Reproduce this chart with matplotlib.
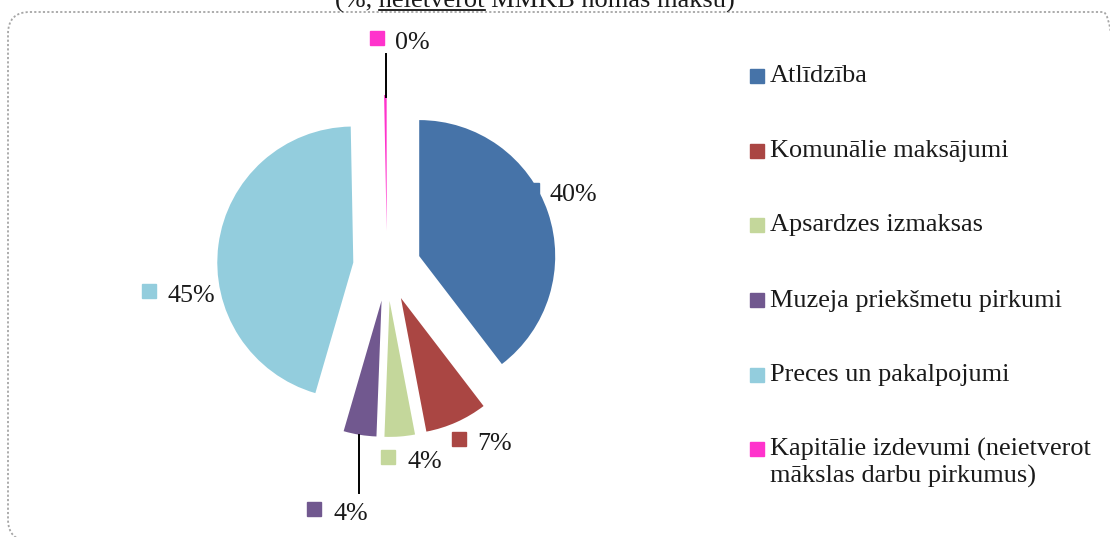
import matplotlib
matplotlib.use("Agg")
import matplotlib.pyplot as plt
from matplotlib.patches import FancyBboxPatch

plt.rcParams['font.family'] = ['Liberation Serif', 'DejaVu Serif']

# ---- data ----
categories = ["Atlīdzība", "Komunālie maksājumi", "Apsardzes izmaksas",
              "Muzeja priekšmetu pirkumi", "Preces un pakalpojumi",
              "Kapitālie izdevumi (neietverot\nmākslas darbu pirkumus)"]
values = [39.6, 7.4, 3.6, 3.9, 45.2, 0.3]
colors = ["#4673A8", "#AA4643", "#C4D79B", "#71588F", "#93CDDD", "#FF33CC"]
title_pre = "(%, "
title_ul = "neietverot"
title_post = " MMKB nomas maksu)"

W, H = 1110, 537
fig = plt.figure(figsize=(W / 100, H / 100), dpi=100)
ax = fig.add_axes([0, 0, 1, 1])

def py(y):
    return H - y

FS = 18.7
FS_LEG = 18.9
FS_TITLE = 19.0

# dotted rounded border (extends past right and bottom edges)
border = FancyBboxPatch((8, py(541)), 1117, 529,
                        boxstyle="round,pad=0,rounding_size=22",
                        fill=False, edgecolor="#A6A6A6", linewidth=1.3,
                        linestyle=(0, (1.2, 1.2)), zorder=0)
ax.add_patch(border)

# pie
wedges, _ = ax.pie(values, colors=colors, startangle=90, counterclock=False,
                   radius=136, center=(387, py(267)),
                   explode=[34, 34, 34, 34, 34, 36],
                   wedgeprops=dict(linewidth=0, zorder=2))

# data labels (layout positions: square centre x, y; text left x)
label_pos = [(532, 190, 550), (459, 439, 477), (388, 457, 407),
             (314, 509, 333), (149, 291, 167), (377, 38, 395)]
for v, c, (sx, sy, tx) in zip(values, colors, label_pos):
    ax.plot([sx], [py(sy)], marker='s', markersize=10.1, color=c,
            linestyle='none', zorder=1)
    ax.text(tx, py(sy + 11), f"{round(v)}%", fontsize=FS, ha='left',
            va='baseline', color='#1a1a1a', zorder=4)

# leader lines
ax.plot([386, 386], [py(54), py(97)], color='black', linewidth=1.4, zorder=5)
ax.plot([359, 359], [py(435), py(493)], color='black', linewidth=1.4, zorder=5)

# legend
leg_y = [76, 151, 225, 300, 375, 449]
for cat, c, y in zip(categories, colors, leg_y):
    ax.plot([757], [py(y)], marker='s', markersize=10.1, color=c,
            linestyle='none')
    for i, line in enumerate(cat.split("\n")):
        ax.text(770, py(y + 6.5 + 27 * i), line, fontsize=FS_LEG, ha='left',
                va='baseline', color='#1a1a1a')

# title (partly cut at top) with underline
full = title_pre + title_ul + title_post
tcx, tby = 535, py(8)
t = ax.text(tcx, tby, full, fontsize=FS_TITLE, ha='center', va='baseline',
            color='#1a1a1a')
ax.set_xlim(0, W)
ax.set_ylim(0, H)
ax.set_aspect('equal', adjustable='box')
ax.axis('off')

fig.canvas.draw()
r = fig.canvas.get_renderer()
def width(s):
    tt = ax.text(0, 0, s, fontsize=FS_TITLE)
    w = tt.get_window_extent(r).width
    tt.remove()
    return w
wfull = width(full)
x0 = tcx - wfull / 2
ustart = x0 + width(title_pre + "n") - width("n")
uend = x0 + width(title_pre + title_ul)
ax.plot([ustart, uend], [py(10), py(10)], color='black', linewidth=1.2)

fig.savefig("out.png", dpi=100)
